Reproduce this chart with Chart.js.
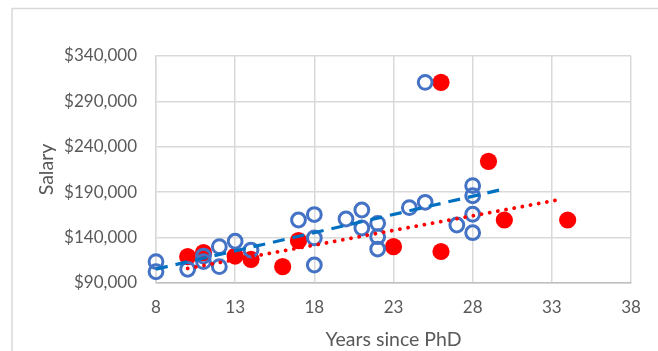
<!DOCTYPE html>
<html>
<head>
<meta charset="utf-8">
<script src="https://cdn.jsdelivr.net/npm/chart.js@4/dist/chart.umd.min.js"></script>
<style>
  html, body { margin: 0; padding: 0; background: #ffffff; }
  #wrap { position: relative; width: 658px; height: 351px; }
  canvas { display: block; }
</style>
</head>
<body>
<div id="wrap"><canvas id="c" width="658" height="351"></canvas></div>
<script>
// ---- data ----
const blueYears    = [8, 8, 10, 11, 11, 12, 12, 13, 14, 17, 18, 18, 18, 20, 21, 21, 22, 22, 22, 24, 25, 25, 27, 28, 28, 28, 28];
const blueSalaries = [113500, 102400, 105100, 119700, 113500, 130000, 108000, 136000, 126300, 159400, 165400, 139600, 109800, 160500, 170400, 150600, 155700, 141000, 127400, 173000, 178900, 311000, 153900, 197200, 186100, 165700, 145400];

const redYears    = [10, 11, 13, 14, 16, 17, 23, 26, 26, 29, 30, 34];
const redSalaries = [119000, 123400, 119700, 116100, 108000, 136600, 130000, 311000, 124700, 224000, 159400, 159400];

// trendline end points
const blueTrendYears    = [8, 29.7];
const blueTrendSalaries = [105300, 192400];
const redTrendYears     = [10, 33.7];
const redTrendSalaries  = [106000, 182500];

// axis ticks
const xTicks = [8, 13, 18, 23, 28, 33, 38];
const yTicks = [90000, 140000, 190000, 240000, 290000, 340000];

const toPoints = (xs, ys) => xs.map((x, i) => ({ x: x, y: ys[i] }));

const frame = {
  id: 'frame',
  beforeDraw(chart) {
    const ctx = chart.ctx;
    ctx.save();
    ctx.fillStyle = '#ffffff';
    ctx.fillRect(0, 0, chart.width, chart.height);
    ctx.strokeStyle = '#d9d9d9';
    ctx.lineWidth = 1.5;
    ctx.strokeRect(12, 8.5, 700, 400);
    ctx.restore();
  }
};

const LABEL = '#595959';
const GRID = '#d9d9d9';

new Chart(document.getElementById('c'), {
  type: 'scatter',
  data: {
    datasets: [
      {
        label: 'Trend 1',
        type: 'line',
        data: toPoints(blueTrendYears, blueTrendSalaries),
        borderColor: '#0070C0',
        borderWidth: 3.2,
        borderDash: [12, 8],
        pointRadius: 0,
        fill: false,
        clip: false,
        order: 0
      },
      {
        label: 'Trend 2',
        type: 'line',
        data: toPoints(redTrendYears, redTrendSalaries),
        borderColor: '#FF0000',
        borderWidth: 3.8,
        borderDash: [0.1, 8.2],
        borderCapStyle: 'round',
        pointRadius: 0,
        fill: false,
        clip: false,
        order: 0
      },
      {
        label: 'Series 1',
        data: toPoints(blueYears, blueSalaries),
        pointRadius: 6.9,
        pointBorderWidth: 3,
        borderColor: '#4472C4',
        backgroundColor: 'rgba(0,0,0,0)',
        pointBackgroundColor: 'rgba(0,0,0,0)',
        clip: false,
        order: 1
      },
      {
        label: 'Series 2',
        data: toPoints(redYears, redSalaries),
        pointRadius: 8.6,
        pointBorderWidth: 0,
        borderColor: '#FF0000',
        backgroundColor: '#FF0000',
        pointBackgroundColor: '#FF0000',
        clip: false,
        order: 2
      }
    ]
  },
  options: {
    responsive: false,
    animation: false,
    devicePixelRatio: 1,
    layout: { padding: { left: 0, right: 27, top: 56, bottom: 0 } },
    plugins: {
      legend: { display: false },
      tooltip: { enabled: false }
    },
    scales: {
      x: {
        type: 'linear',
        min: 8,
        max: 38,
        afterBuildTicks(scale) { scale.ticks = xTicks.map(v => ({ value: v })); },
        afterFit(scale) { scale.height = 351 - 283; },
        grid: { color: GRID, lineWidth: 1.5, drawTicks: false },
        border: { color: '#bfbfbf', width: 1.5 },
        ticks: {
          color: LABEL,
          font: { family: 'Lato', size: 17 },
          padding: 14,
          maxRotation: 0
        },
        title: {
          display: true,
          text: 'Years since PhD',
          color: LABEL,
          font: { family: 'Lato', size: 19.5 },
          padding: { top: 0, bottom: 0 }
        }
      },
      y: {
        type: 'linear',
        min: 90000,
        max: 340000,
        afterBuildTicks(scale) { scale.ticks = yTicks.map(v => ({ value: v })); },
        afterFit(scale) { scale.width = 156; },
        grid: { color: GRID, lineWidth: 1.5, drawTicks: false },
        border: { color: GRID, width: 1.5 },
        ticks: {
          color: LABEL,
          font: { family: 'Lato', size: 17 },
          padding: 19,
          callback: v => '$' + Number(v).toLocaleString('en-US')
        },
        title: {
          display: true,
          text: 'Salary',
          color: LABEL,
          font: { family: 'Lato', size: 19.5 },
          padding: { top: 35, bottom: 0 }
        }
      }
    }
  },
  plugins: [frame]
});
</script>
</body>
</html>
